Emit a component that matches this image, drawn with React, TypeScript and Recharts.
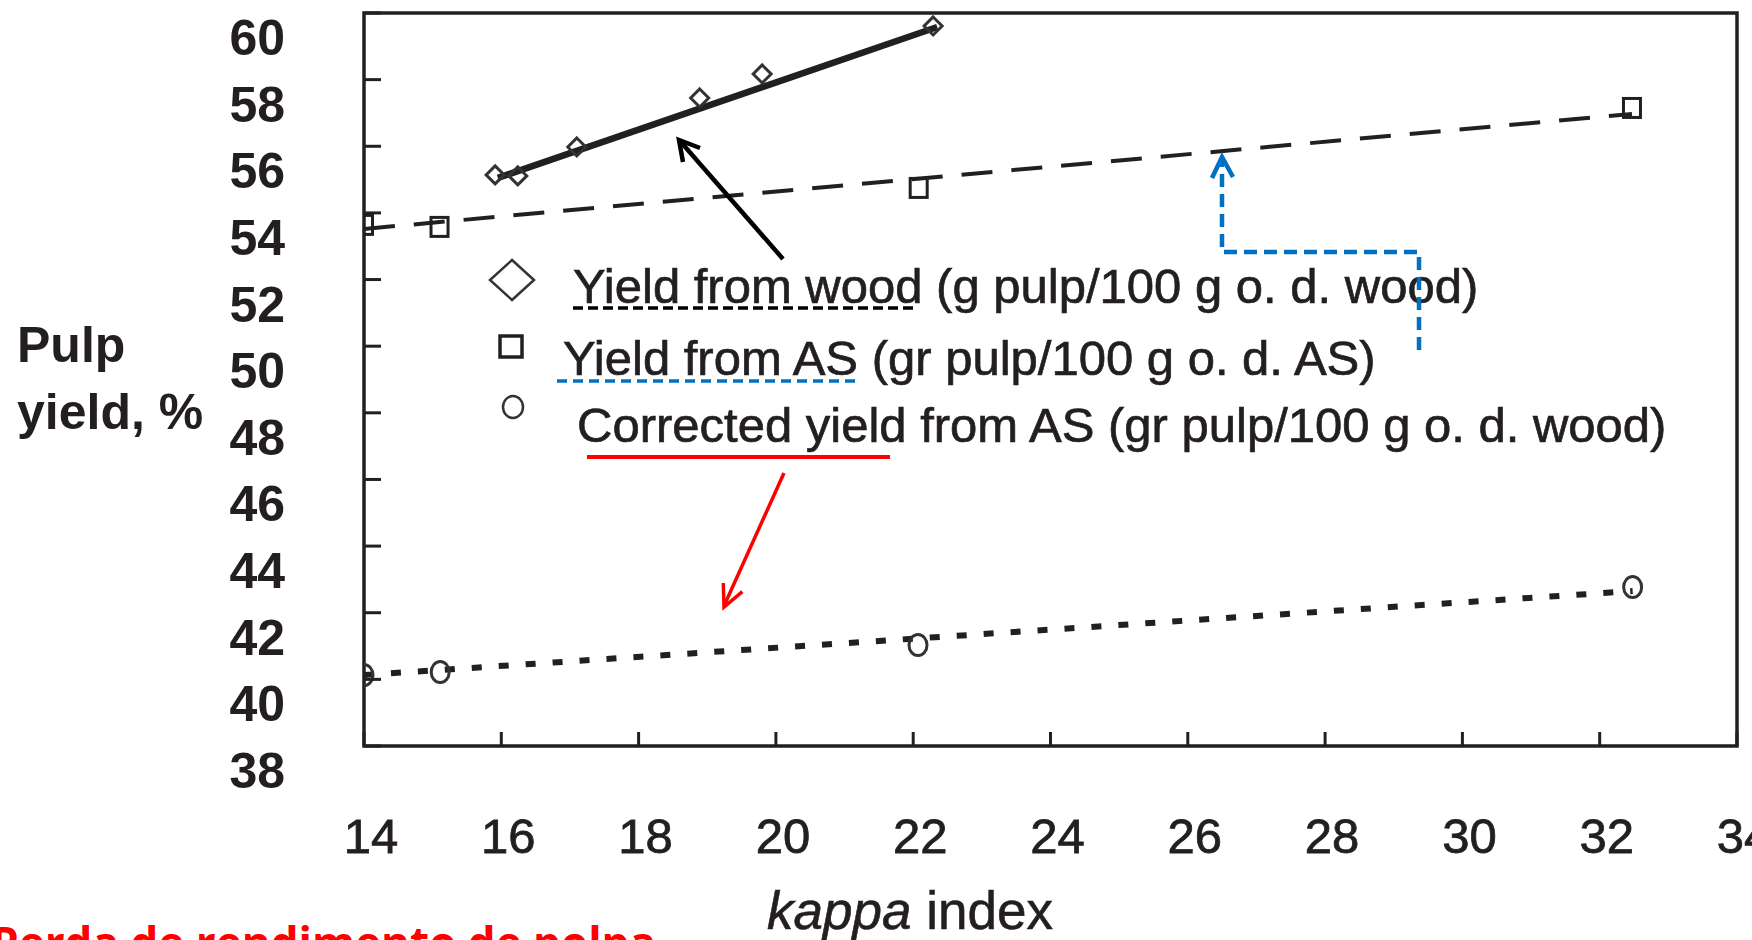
import React from 'react';
import {
  ComposedChart,
  Line,
  Scatter,
  XAxis,
  YAxis,
  ReferenceArea,
  Legend
} from 'recharts';

// axis ticks
const kappaTicks = [14, 16, 18, 20, 22, 24, 26, 28, 30, 32, 34];
const yieldTicks = [38, 40, 42, 44, 46, 48, 50, 52, 54, 56, 58, 60];

// measured points
const woodKappa = [15.91, 16.24, 17.1, 18.89, 19.8, 22.29];
const woodYield = [55.14, 55.11, 55.98, 57.45, 58.17, 59.61];
const asKappa = [14.0, 15.1, 22.08, 32.47];
const asYield = [53.64, 53.58, 54.75, 57.15];
const corrKappa = [14.0, 15.11, 22.07, 32.48];
const corrYield = [40.13, 40.22, 41.03, 42.77];

// trend lines (end points)
const woodFitKappa = [15.95, 22.35];
const woodFitYield = [55.05, 59.58];
const asFitKappa = [14.0, 32.47];
const asFitYield = [53.52, 56.97];
const corrFitKappa = [14.0, 32.48];
const corrFitYield = [40.13, 42.65];

const legendLabels = [
  'Yield from wood (g pulp/100 g o. d. wood)',
  'Yield from AS (gr pulp/100 g o. d. AS)',
  'Corrected yield from AS (gr pulp/100 g o. d. wood)'
];

const zip = (xs: number[], ys: number[]) => xs.map((x, i) => ({ x, y: ys[i] }));

const INK = '#231f20';
const BLUE = '#0070c0';
const RED = '#ff0000';
const FONT = '"Liberation Sans", Arial, sans-serif';

const Diamond = ({ cx, cy }: any) => (
  <path
    d={`M${cx},${cy - 9} L${cx + 9},${cy} L${cx},${cy + 9} L${cx - 9},${cy} Z`}
    fill="none"
    stroke="#333"
    strokeWidth={3}
  />
);

const Square = ({ cx, cy }: any) => (
  <rect x={cx - 8.5} y={cy - 9.5} width={17} height={19} fill="none" stroke={INK} strokeWidth={3} />
);

const Ring = ({ cx, cy }: any) => (
  <ellipse cx={cx} cy={cy} rx={9} ry={10.5} fill="none" stroke="#333" strokeWidth={3} />
);

const XTick = ({ x, y, payload }: any) => (
  <g>
    <line x1={x} x2={x} y1={y} y2={y - 14} stroke={INK} strokeWidth={3} />
    <text
      x={x + 7}
      y={y + 107}
      textAnchor="middle"
      fontFamily={FONT}
      fontSize={49}
      fill={INK}
      stroke={INK}
      strokeWidth={0.8}
    >
      {payload.value}
    </text>
  </g>
);

const YTick = ({ x, y, payload }: any) => (
  <g>
    <line x1={x} x2={x + 17} y1={y} y2={y} stroke={INK} strokeWidth={3} />
    <text x={x - 79} y={y + 42} textAnchor="end" fontFamily={FONT} fontWeight="bold" fontSize={50} fill={INK}>
      {payload.value}
    </text>
  </g>
);

const arrowHead = (x1: number, y1: number, x2: number, y2: number, len: number, spread: number) => {
  const a = Math.atan2(y2 - y1, x2 - x1);
  const p1 = [x2 - len * Math.cos(a - spread), y2 - len * Math.sin(a - spread)];
  const p2 = [x2 - len * Math.cos(a + spread), y2 - len * Math.sin(a + spread)];
  return `${p1[0]},${p1[1]} ${x2},${y2} ${p2[0]},${p2[1]}`;
};

// legend block plus the hand-drawn notes on top of the figure
const Overlay = () => (
  <svg width={1752} height={940} style={{ position: 'absolute', left: 0, top: 0 }}>
    <g fontFamily={FONT} fontSize={49} fill={INK} stroke={INK} strokeWidth={0.7}>
      <text x={573} y={303}>{legendLabels[0]}</text>
      <text x={563} y={375}>{legendLabels[1]}</text>
      <text x={577} y={442}>{legendLabels[2]}</text>
    </g>
    <path d="M512,260 L534,280 L512,300 L490,280 Z" fill="none" stroke="#333" strokeWidth={2.5} />
    <rect x={500} y={336} width={22} height={21} fill="none" stroke={INK} strokeWidth={3.5} />
    <ellipse cx={513} cy={407} rx={10} ry={11} fill="none" stroke="#333" strokeWidth={2.5} />

    <line x1={573} x2={918} y1={308} y2={308} stroke="#000" strokeWidth={3.5} strokeDasharray="10 5" />
    <line x1={557} x2={860} y1={381} y2={381} stroke={BLUE} strokeWidth={3.5} strokeDasharray="10 6" />
    <line x1={587} x2={890} y1={457} y2={457} stroke={RED} strokeWidth={4} />

    <line x1={783} y1={259} x2={680} y2={141} stroke="#000" strokeWidth={4.5} />
    <polyline points="700,148 679,140 683,162" fill="none" stroke="#000" strokeWidth={4.5} />

    <line x1={784} y1={473} x2={724} y2={606} stroke={RED} strokeWidth={3.5} />
    <polyline points={arrowHead(784, 473, 724, 607, 24, 0.45)} fill="none" stroke={RED} strokeWidth={3.5} />

    <polyline
      points="1419,350 1419,252 1222,252 1222,160"
      fill="none"
      stroke={BLUE}
      strokeWidth={4.5}
      strokeDasharray="13 7"
    />
    <polyline points="1212,178 1222,157 1233,177" fill="none" stroke={BLUE} strokeWidth={4.5} />

    <text x={656} y={959} textAnchor="end" fontFamily='"Open Sans", sans-serif' fontWeight="bold" fontSize={44} fill={RED}>
      Perda de rendimento de polpa
    </text>
  </svg>
);

const PulpLabel = () => (
  <text fontFamily={FONT} fontWeight="bold" fontSize={50} fill={INK}>
    <tspan x={17} y={362}>Pulp</tspan>
    <tspan x={17} y={429}>yield, %</tspan>
  </text>
);

const KappaLabel = () => (
  <text x={910} y={929} textAnchor="middle" fontFamily={FONT} fontSize={53} fill={INK} stroke={INK} strokeWidth={0.6}>
    <tspan fontStyle="italic">kappa</tspan> index
  </text>
);

export default function App() {
  return (
    <div style={{ position: 'absolute', left: 0, top: 0, width: 1752, height: 940, background: '#fff' }}>
      <ComposedChart width={1752} height={940} margin={{ top: 13, right: 15, bottom: 0, left: 0 }}>
        <XAxis
          dataKey="x"
          type="number"
          domain={[14, 34]}
          ticks={kappaTicks}
          interval={0}
          height={194}
          axisLine={false}
          tickLine={false}
          tickSize={0}
          tickMargin={0}
          tick={<XTick />}
          allowDataOverflow
          label={{ content: () => <KappaLabel /> }}
        />
        <YAxis
          dataKey="y"
          type="number"
          domain={[38, 60]}
          ticks={yieldTicks}
          interval={0}
          width={364}
          axisLine={false}
          tickLine={false}
          tickSize={0}
          tickMargin={0}
          tick={<YTick />}
          allowDataOverflow
          label={{ content: () => <PulpLabel /> }}
        />
        <ReferenceArea x1={14} x2={34} y1={38} y2={60} fill="none" stroke={INK} strokeWidth={3.5} fillOpacity={0} />
        <Line
          data={zip(woodFitKappa, woodFitYield)}
          dataKey="y"
          stroke={INK}
          strokeWidth={6.5}
          dot={false}
          isAnimationActive={false}
        />
        <Line
          data={zip(asFitKappa, asFitYield)}
          dataKey="y"
          stroke={INK}
          strokeWidth={4}
          strokeDasharray="31 19"
          dot={false}
          isAnimationActive={false}
        />
        <Line
          data={zip(corrFitKappa, corrFitYield)}
          dataKey="y"
          stroke={INK}
          strokeWidth={6}
          strokeDasharray="10 17"
          dot={false}
          isAnimationActive={false}
        />
        <Scatter data={zip(woodKappa, woodYield)} dataKey="y" shape={<Diamond />} isAnimationActive={false} />
        <Scatter data={zip(asKappa, asYield)} dataKey="y" shape={<Square />} isAnimationActive={false} />
        <Scatter data={zip(corrKappa, corrYield)} dataKey="y" shape={<Ring />} isAnimationActive={false} />
        <Legend
          layout="vertical"
          align="center"
          verticalAlign="middle"
          content={() => <Overlay />}
          wrapperStyle={{ position: 'absolute', left: 0, top: 0, width: 1752, height: 940, pointerEvents: 'none' }}
        />
      </ComposedChart>
    </div>
  );
}
